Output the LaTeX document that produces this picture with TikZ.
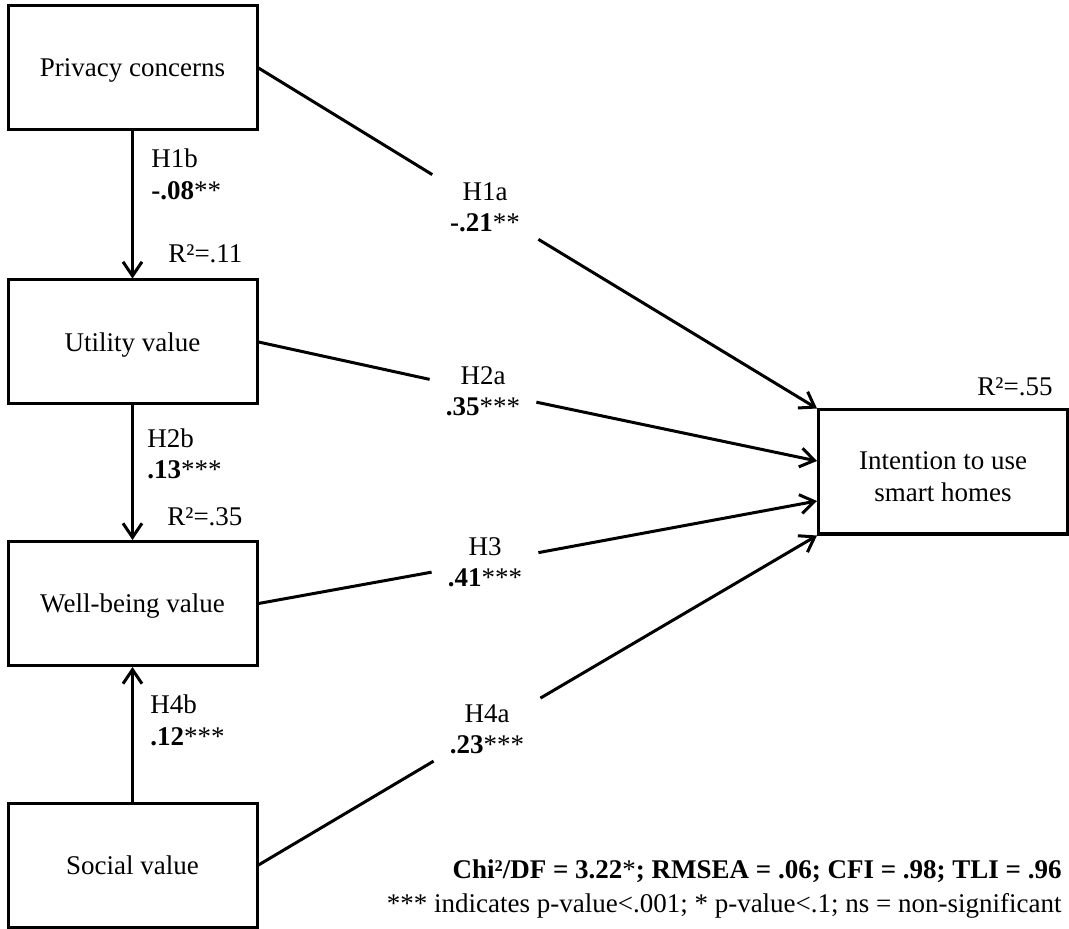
\documentclass[tikz,border=0pt]{standalone}
\usepackage{fontspec}
\setmainfont{Liberation Serif}
\usetikzlibrary{arrows.meta}
\begin{document}
\begin{tikzpicture}[x=0.5pt,y=-0.5pt,
  font=\fontsize{13.5}{15.5}\selectfont,
  construct/.style={draw,line width=1.5pt,minimum width=124.5pt,minimum height=62pt,inner sep=0pt,align=center},
  single/.style={construct,text depth=0pt},
  pathlabel/.style={minimum width=53pt,minimum height=32pt,inner sep=0pt,align=center},
  note/.style={inner sep=0pt,anchor=base west},
  link/.style={line width=1.5pt},
  effect/.style={link,-{Straight Barb[length=7pt,width=9.5pt,line width=1.5pt]}}]
\useasboundingbox (0,0) rectangle (1069,929);

% constructs
\node[single] (P) at (132.5,68) {Privacy concerns};
\node[single] (U) at (132.5,342) {Utility value};
\node[single] (W) at (132.5,603.5) {Well-being value};
\node[single] (S) at (132.5,865) {Social value};
\node[construct] (I) at (943,472) {};
\node[inner sep=0pt,align=center,font=\fontsize{13.5}{16}\selectfont] (Itext) at (943,477) {Intention to use\\smart homes};

% path labels sitting in the gaps of the diagonal paths
\node[pathlabel] (l1) at (485,207) {H1a\\\textbf{-.21}**};
\node[pathlabel] (l2) at (483,391) {H2a\\\textbf{.35}***};
\node[pathlabel] (l3) at (485,562.5) {H3\\\textbf{.41}***};
\node[pathlabel] (l4) at (487,729.5) {H4a\\\textbf{.23}***};

% end points on the outcome box
\coordinate (i2) at ([yshift=5.5pt]I.west);
\coordinate (i3) at ([yshift=-14.5pt]I.west);

% diagonal paths
\draw[link] (P.east) -- (l1);
\draw[effect] (l1) -- (I.north west);
\draw[link] (U.east) -- (l2);
\draw[effect] (l2) -- (i2);
\draw[link] (W.east) -- (l3);
\draw[effect] (l3) -- (i3);
\draw[link] (S.east) -- (l4);
\draw[effect] (l4) -- (I.south west);

% vertical paths
\draw[effect] (P) -- (U);
\draw[effect] (U) -- (W);
\draw[effect] (S) -- (W);

% vertical path labels and R-squared values
\node[note] (h1b) at (151,168) {H1b};
\node[note] (c1b) at (151,200) {\textbf{-.08}**};
\node[note] (r1) at (168,263) {R²=.11};
\node[note] (h2b) at (147,448) {H2b};
\node[note] (c2b) at (147,479) {\textbf{.13}***};
\node[note] (r2) at (167,525) {R²=.35};
\node[note] (h4b) at (150,713) {H4b};
\node[note] (c4b) at (150,745) {\textbf{.12}***};
\node[note] (r3) at (977,396) {R²=.55};

% fit statistics
\node[inner sep=0pt,anchor=base east] (fit) at (1062,878)
  {\textbf{Chi²/DF = 3.22}*\textbf{; RMSEA = .06; CFI = .98; TLI = .96}};
\node[inner sep=0pt,anchor=base east] (sig) at (1062,912)
  {*** indicates p-value<.001; * p-value<.1; ns = non-significant};
\end{tikzpicture}
\end{document}
